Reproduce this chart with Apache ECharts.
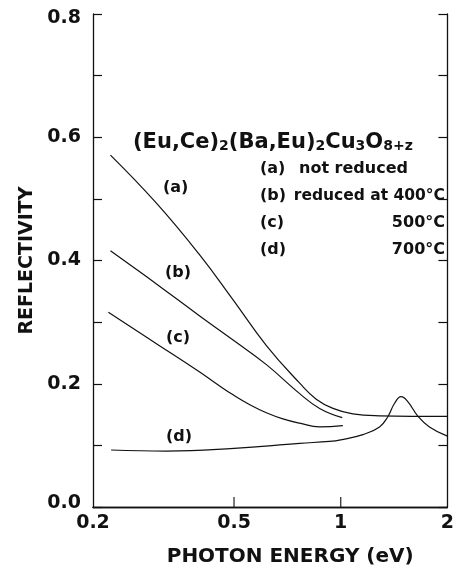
<!DOCTYPE html>
<html><head><meta charset="utf-8">
<script src="https://cdn.jsdelivr.net/npm/echarts@6/dist/echarts.min.js"></script>
<style>html,body{margin:0;padding:0;background:#fff}#c{width:457px;height:575px}</style>
</head><body><div id="c"></div><script>
// Photon energy (eV) and reflectivity for each sample
const energyA = [0.224, 0.302, 0.400, 0.497, 0.617, 0.766, 0.853, 0.951, 1.082, 1.287, 2.0];
const reflA   = [0.571, 0.493, 0.409, 0.336, 0.262, 0.201, 0.175, 0.160, 0.151, 0.148, 0.147];
const energyB = [0.224, 0.302, 0.400, 0.497, 0.617, 0.766, 0.872, 1.01];
const reflB   = [0.416, 0.362, 0.310, 0.271, 0.231, 0.184, 0.160, 0.145];
const energyC = [0.221, 0.302, 0.400, 0.446, 0.497, 0.554, 0.617, 0.687, 0.766, 0.872, 1.014];
const reflC   = [0.316, 0.265, 0.219, 0.200, 0.182, 0.166, 0.153, 0.143, 0.136, 0.130, 0.132];
const energyD = [0.225, 0.322, 0.5, 0.766, 0.93, 1.0, 1.155, 1.287, 1.358, 1.418, 1.481, 1.546, 1.65, 1.78, 2.0];
const reflD   = [0.0925, 0.0908, 0.0952, 0.1033, 0.1065, 0.109, 0.1175, 0.130, 0.1465, 0.168, 0.179, 0.171, 0.1476, 0.130, 0.115];
const xTickLabels = [0.2, 0.5, 1, 2];
const xInnerTicks = [0.5, 1];
const curveNames = ['(a)', '(b)', '(c)', '(d)'];
const legendDesc = ['not reduced', 'reduced at 400\u00b0C', '500\u00b0C', '700\u00b0C'];

const FONT = '"DejaVu Sans", sans-serif';
const zip = (xs, ys) => xs.map((x, i) => [x, ys[i]]);
const chart = echarts.init(document.getElementById('c'), null, {renderer: 'canvas'});

const lineSeries = (name, xs, ys) => ({
  name, type: 'line', data: zip(xs, ys), smooth: 0.45, symbol: 'none',
  xAxisIndex: 0, yAxisIndex: 0,
  lineStyle: {color: '#111', width: 1.2}
});

const graphics = [];
graphics.push({
  type: 'text', left: 133, top: 132,
  style: {
    text: '{m|(Eu,Ce)}{s|2}{m|(Ba,Eu)}{s|2}{m|Cu}{s|3}{m|O}{s|8+z}',
    rich: {
      m: {font: 'bold 21px ' + FONT, fill: '#111', lineHeight: 26, verticalAlign: 'bottom'},
      s: {font: 'bold 14px ' + FONT, fill: '#111', lineHeight: 8, verticalAlign: 'bottom'}
    }
  }
});
const legendTops = [161, 188, 215, 242];
legendTops.forEach((t, i) => {
  graphics.push({type: 'text', left: 260, top: t, style: {text: curveNames[i], font: 'bold 16px ' + FONT, fill: '#111'}});
});
graphics.push({type: 'text', left: 299, top: legendTops[0], style: {text: legendDesc[0], font: 'bold 16px ' + FONT, fill: '#111'}});
graphics.push({type: 'text', right: 12, top: legendTops[1], style: {text: legendDesc[1], font: 'bold 15.5px ' + FONT, fill: '#111'}});
graphics.push({type: 'text', right: 12, top: legendTops[2], style: {text: legendDesc[2], font: 'bold 16px ' + FONT, fill: '#111'}});
graphics.push({type: 'text', right: 12, top: legendTops[3], style: {text: legendDesc[3], font: 'bold 16px ' + FONT, fill: '#111'}});
const curveLabelPos = [[163, 180], [165, 265], [166, 330], [166, 429]];
curveLabelPos.forEach((p, i) => {
  graphics.push({type: 'text', left: p[0], top: p[1], style: {text: curveNames[i], font: 'bold 16px ' + FONT, fill: '#111'}});
});

const seriesList = [
  lineSeries('a', energyA, reflA),
  lineSeries('b', energyB, reflB),
  lineSeries('c', energyC, reflC),
  lineSeries('d', energyD, reflD),
  // short inner ticks on the bottom axis at 0.5 and 1, placed through the axis scales
  {
    type: 'scatter', data: xInnerTicks.map(v => [v, 0]), silent: true, clip: false,
    symbol: 'rect', symbolSize: [1.4, 10], symbolOffset: [0, -5],
    xAxisIndex: 0, yAxisIndex: 0, itemStyle: {color: '#111'}, z: 5
  }
];

chart.setOption({
  animation: false,
  backgroundColor: '#fff',
  grid: {left: 93, right: 9, top: 14, bottom: 68, containLabel: false},
  xAxis: [{
    type: 'log', logBase: 10, min: 0.2, max: 2,
    name: 'PHOTON ENERGY (eV)', nameLocation: 'middle', nameGap: 40,
    nameTextStyle: {fontFamily: FONT, fontWeight: 'bold', fontSize: 20, color: '#111', padding: [0, 0, 0, 40]},
    axisLine: {show: true, lineStyle: {color: '#111', width: 1.3}},
    axisTick: {show: false},
    minorTick: {show: false},
    axisLabel: {customValues: xTickLabels, margin: 7, fontFamily: FONT, fontWeight: 'bold', fontSize: 19, color: '#111',
      formatter: v => String(+(+v).toPrecision(3))},
    splitLine: {show: false}
  }, {
    type: 'log', logBase: 10, min: 0.2, max: 2, position: 'top',
    axisLine: {show: true, lineStyle: {color: '#111', width: 1.3}},
    axisTick: {show: false}, axisLabel: {show: false}, splitLine: {show: false}
  }],
  yAxis: [{
    type: 'value', min: 0, max: 0.8, interval: 0.2,
    name: 'REFLECTIVITY', nameLocation: 'middle', nameGap: 56, nameRotate: 90,
    nameTextStyle: {fontFamily: FONT, fontWeight: 'bold', fontSize: 19, color: '#111'},
    axisLine: {show: true, lineStyle: {color: '#111', width: 1.3}},
    axisTick: {show: true, inside: true, length: 9, lineStyle: {color: '#111', width: 1.2}},
    minorTick: {show: true, splitNumber: 2, length: 9, lineStyle: {color: '#111', width: 1.2}},
    axisLabel: {margin: 12, color: '#111',
      formatter: v => {
        const s = v.toFixed(1);
        if (v >= 0.79) return '{hi|' + s + '}';
        if (v <= 0.01) return '{lo|' + s + '}';
        return '{n|' + s + '}';
      },
      rich: {
        n: {fontFamily: FONT, fontWeight: 'bold', fontSize: 19, color: '#111'},
        hi: {fontFamily: FONT, fontWeight: 'bold', fontSize: 19, color: '#111', padding: [8, 0, 0, 0]},
        lo: {fontFamily: FONT, fontWeight: 'bold', fontSize: 19, color: '#111', padding: [0, 0, 8, 0]}
      }
    },
    splitLine: {show: false}, minorSplitLine: {show: false}
  }, {
    type: 'value', min: 0, max: 0.8, interval: 0.2, position: 'right',
    axisLine: {show: true, lineStyle: {color: '#111', width: 1.3}},
    axisTick: {show: true, inside: true, length: 9, lineStyle: {color: '#111', width: 1.2}},
    minorTick: {show: true, splitNumber: 2, length: 9, lineStyle: {color: '#111', width: 1.2}},
    axisLabel: {show: false}, splitLine: {show: false}, minorSplitLine: {show: false}
  }],
  series: seriesList,
  graphic: graphics
});
</script></body></html>
